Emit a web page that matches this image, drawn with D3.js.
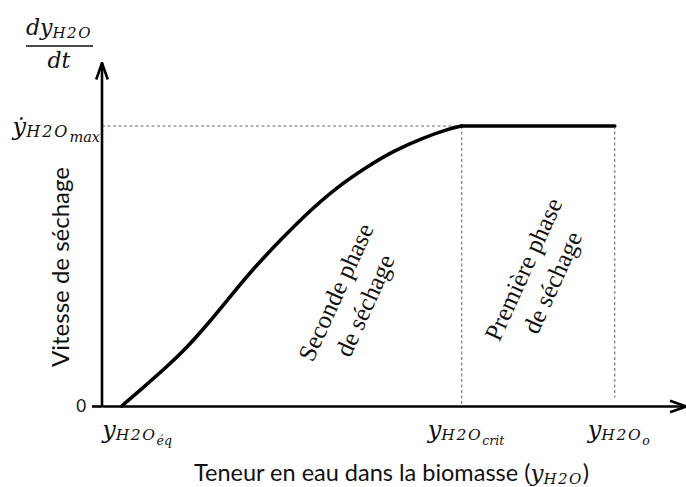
<!DOCTYPE html>
<html>
<head>
<meta charset="utf-8">
<script src="https://cdn.jsdelivr.net/npm/d3@7"></script>
<style>
  body { margin: 0; background: #fff; }
  svg { display: block; }
  .sans { font-family: Lato, "Open Sans", sans-serif; }
  .math { font-family: "DejaVu Serif", serif; font-style: italic; }
  .phase { font-family: "Liberation Serif", serif; font-style: normal; }
</style>
</head>
<body>
<div id="chart"></div>
<script>
// drying rate curve, x = moisture content (arbitrary units), y = rate / max rate
const curveX = [3.4, 7.0, 11.1, 14.6, 18, 22, 26, 30.8, 35, 40, 45.4, 50, 55, 59, 61.6, 87.8];
const curveY = [0, 0.065, 0.14, 0.21, 0.29, 0.392, 0.493, 0.598, 0.686, 0.778, 0.855, 0.912, 0.958, 0.987, 1, 1];

// characteristic moisture contents
const xEq = 3.4, xCrit = 61.6, x0 = 87.8;
const yMax = 1;

// tick labels: main symbol, subscript, sub-subscript
const tickLabels = [
  { x: xEq, sub: "H2O", subsub: "éq" },
  { x: xCrit, sub: "H2O", subsub: "crit" },
  { x: x0, sub: "H2O", subsub: "o" }
];
const phaseText = [
  ["Seconde phase", "de séchage"],
  ["Première phase", "de séchage"]
];

const width = 686, height = 487;

// layout only
const labelDx = [-19.7, -34, -27];
const phasePos = [{ x: 42.6, y: 0.382 }, { x: 74.7, y: 0.464 }];
const phaseAngle = -65.5;

const x = d3.scaleLinear().domain([0, 100]).range([102, 686]);
const y = d3.scaleLinear().domain([0, 1.225]).range([406, 63]);

const svg = d3.select("#chart").append("svg")
    .attr("width", width)
    .attr("height", height);

// arrow marker (open V)
svg.append("defs").append("marker")
    .attr("id", "arrow")
    .attr("viewBox", "0 -8 19 16")
    .attr("refX", 17.5).attr("refY", 0)
    .attr("markerUnits", "userSpaceOnUse")
    .attr("markerWidth", 19).attr("markerHeight", 16)
    .attr("orient", "auto")
  .append("path")
    .attr("d", "M1,-5.8L17.5,0L1,5.8")
    .attr("fill", "none")
    .attr("stroke", "#000")
    .attr("stroke-width", 2.6);

// dashed guides
const guides = [
  [[0, yMax], [xCrit, yMax]],
  [[xCrit, yMax], [xCrit, 0]],
  [[x0, yMax], [x0, 0.03]]
];
svg.selectAll("line.guide")
  .data(guides)
  .join("line")
    .attr("class", "guide")
    .attr("x1", d => x(d[0][0])).attr("y1", d => y(d[0][1]))
    .attr("x2", d => x(d[1][0])).attr("y2", d => y(d[1][1]))
    .attr("stroke", "#6f6f6f")
    .attr("stroke-width", 1.1)
    .attr("stroke-dasharray", "3,2.5");

// axes
const xAxis = svg.append("g")
    .attr("transform", `translate(0,${y(0)})`)
    .call(d3.axisBottom(x).tickValues([]).tickSizeOuter(0));
xAxis.select(".domain")
    .attr("stroke-width", 2.6)
    .attr("marker-end", "url(#arrow)");

const yAxis = svg.append("g")
    .attr("transform", `translate(${x(0)},0)`)
    .call(d3.axisLeft(y).tickValues([0]).tickFormat(d3.format("d"))
      .tickSize(10).tickSizeOuter(0).tickPadding(6));
yAxis.select(".domain")
    .attr("d", `M0,${y(0) + 1}V${y(1.225)}`)
    .attr("stroke-width", 2.6)
    .attr("marker-end", "url(#arrow)");
yAxis.selectAll(".tick line").attr("stroke-width", 2.6);
yAxis.selectAll(".tick text")
    .attr("class", "sans")
    .attr("font-size", 17)
    .attr("fill", "#111");

// curve: smooth rise up to the critical point, then the constant-rate plateau
const pts = curveX.map((d, i) => [d, curveY[i]]);
const line = d3.line().x(d => x(d[0])).y(d => y(d[1]));
svg.append("path")
    .datum(pts.filter(d => d[0] <= xCrit))
    .attr("fill", "none")
    .attr("stroke", "#000")
    .attr("stroke-width", 3.6)
    .attr("stroke-linecap", "round")
    .attr("d", line.curve(d3.curveBasis));
svg.append("path")
    .datum(pts.filter(d => d[0] >= xCrit))
    .attr("fill", "none")
    .attr("stroke", "#000")
    .attr("stroke-width", 3.6)
    .attr("stroke-linecap", "round")
    .attr("d", line.curve(d3.curveLinear));

// x tick labels
tickLabels.forEach((t, i) => {
  const txt = svg.append("text")
      .attr("class", "math")
      .attr("x", x(t.x) + labelDx[i])
      .attr("y", 438)
      .attr("fill", "#111");
  txt.append("tspan").attr("font-size", 24).text("y");
  txt.append("tspan").attr("font-size", 15.5).attr("letter-spacing", 1.6).attr("dy", 2).text(t.sub);
  txt.append("tspan").attr("font-size", 12.5).attr("dy", 5).text(t.subsub);
});

// y max label
const ym = svg.append("text")
    .attr("class", "math")
    .attr("x", x(0) - 2)
    .attr("y", y(yMax) + 9)
    .attr("text-anchor", "end")
    .attr("fill", "#111");
ym.append("tspan").attr("font-size", 24).text("ẏ");
ym.append("tspan").attr("font-size", 16).attr("letter-spacing", 2).attr("dy", 2).text("H2O");
ym.append("tspan").attr("font-size", 14.5).attr("dy", 5).text("max");

// fraction dy/dt
const fr = svg.append("text")
    .attr("class", "math")
    .attr("x", 59).attr("y", 35)
    .attr("text-anchor", "middle")
    .attr("fill", "#111");
fr.append("tspan").attr("font-size", 22).text("dy");
fr.append("tspan").attr("font-size", 15).attr("letter-spacing", 1.6).attr("dy", 3).text("H2O");
svg.append("line")
    .attr("x1", 26).attr("x2", 93)
    .attr("y1", 46).attr("y2", 46)
    .attr("stroke", "#111").attr("stroke-width", 1.3);
svg.append("text")
    .attr("class", "math")
    .attr("x", 59).attr("y", 68)
    .attr("text-anchor", "middle")
    .attr("font-size", 22)
    .attr("fill", "#111")
    .text("dt");

// axis titles
svg.append("text")
    .attr("class", "sans")
    .attr("transform", `translate(69,267) rotate(-90)`)
    .attr("text-anchor", "middle")
    .attr("font-size", 24)
    .attr("fill", "#111")
    .text("Vitesse de séchage");

const xt = svg.append("text")
    .attr("class", "sans")
    .attr("x", 194).attr("y", 481)
    .attr("font-size", 23.5)
    .attr("fill", "#111");
xt.append("tspan").text("Teneur en eau dans la biomasse (");
xt.append("tspan").attr("class", "math").attr("font-size", 23).text("y");
xt.append("tspan").attr("class", "math").attr("font-size", 15).attr("letter-spacing", 1.5).attr("dy", 3).text("H2O");
xt.append("tspan").attr("dy", -3).text(")");

// phase annotations
phaseText.forEach((lines, i) => {
  const p = phasePos[i];
  const t = svg.append("text")
      .attr("class", "phase")
      .attr("transform", `translate(${x(p.x)},${y(p.y)}) rotate(${phaseAngle})`)
      .attr("text-anchor", "middle")
      .attr("font-size", 25)
      .attr("fill", "#111");
  t.selectAll("tspan")
    .data(lines)
    .join("tspan")
      .attr("x", 0)
      .attr("y", (d, j) => j === 0 ? -8 : 24)
      .text(d => d);
});
</script>
</body>
</html>
